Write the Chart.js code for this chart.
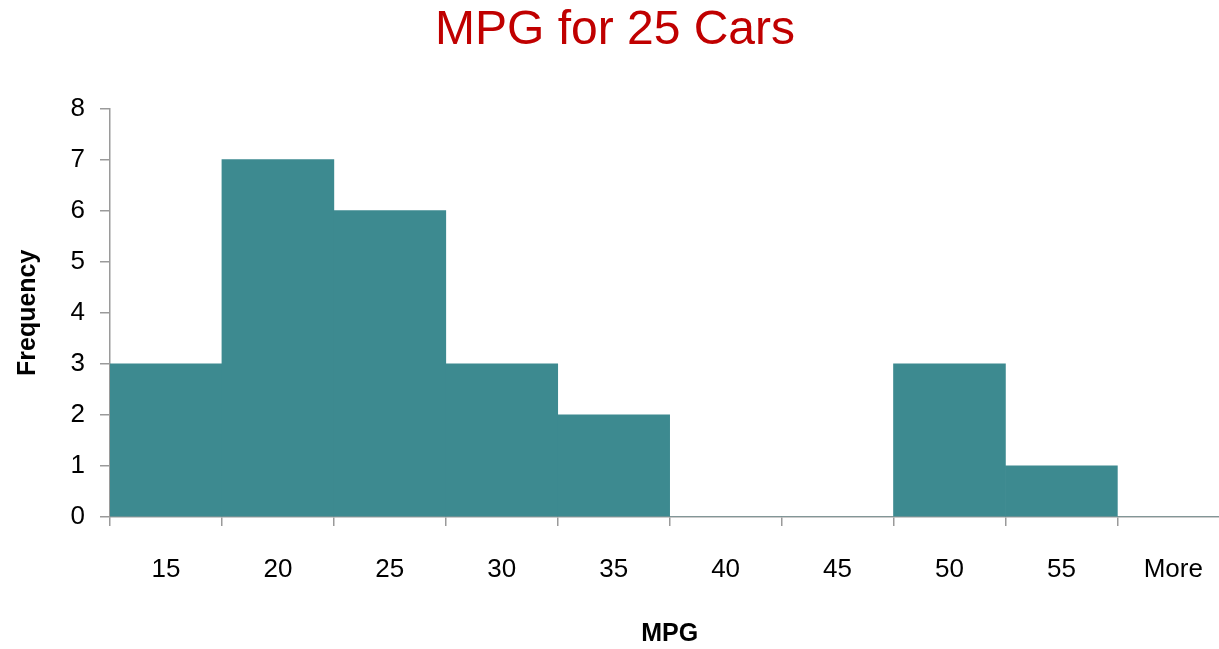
<!DOCTYPE html>
<html>
<head>
<meta charset="utf-8">
<script src="https://cdn.jsdelivr.net/npm/chart.js@4.4.1/dist/chart.umd.min.js"></script>
<style>
  html, body { margin: 0; padding: 0; background: #ffffff; overflow: hidden; }
  #wrap { width: 1219px; height: 649px; overflow: hidden; }
</style>
</head>
<body>
<div id="wrap"><canvas id="hist" width="1231" height="649"></canvas></div>
<script>
// Histogram bins (upper bound of each MPG class) and counts
const binLabels = ['15', '20', '25', '30', '35', '40', '45', '50', '55', 'More'];
const frequencies = [3, 7, 6, 3, 2, 0, 0, 3, 1, 0];
const yTicks = [0, 1, 2, 3, 4, 5, 6, 7, 8];

const AXIS_GRAY = '#9a9a9a';
const FONT = "'Liberation Sans', Arial, sans-serif";

new Chart(document.getElementById('hist'), {
  type: 'bar',
  data: {
    labels: binLabels,
    datasets: [{
      label: 'Frequency',
      data: frequencies,
      backgroundColor: '#3d8a90',
      borderWidth: 0,
      barPercentage: 1.0,
      categoryPercentage: 1.0
    }]
  },
  options: {
    responsive: false,
    animation: false,
    layout: { padding: { left: 0, right: 1, top: 0, bottom: 0 } },
    plugins: {
      legend: { display: false },
      tooltip: { enabled: false },
      title: {
        display: true,
        text: 'MPG for 25 Cars',
        color: '#c00000',
        font: { family: FONT, size: 48, weight: 'normal' },
        padding: { top: 2, bottom: 49 }
      }
    },
    scales: {
      x: {
        offset: true,
        grid: {
          display: true,
          offset: true,
          drawOnChartArea: false,
          drawTicks: true,
          tickLength: 9,
          color: AXIS_GRAY,
          lineWidth: 1.5
        },
        border: { display: true, color: AXIS_GRAY, width: 1.5 },
        ticks: {
          color: '#000000',
          font: { family: FONT, size: 26 },
          padding: 28,
          maxRotation: 0,
          autoSkip: false
        },
        title: {
          display: true,
          text: 'MPG',
          color: '#000000',
          font: { family: FONT, size: 25, weight: 'bold' },
          padding: { top: 0, bottom: 0 }
        },
        afterFit(scale) { scale.height = 132; }
      },
      y: {
        min: 0,
        max: 8,
        afterBuildTicks(scale) { scale.ticks = yTicks.map(v => ({ value: v })); },
        grid: {
          display: true,
          drawOnChartArea: false,
          drawTicks: true,
          tickLength: 10,
          color: AXIS_GRAY,
          lineWidth: 1.5
        },
        border: { display: true, color: AXIS_GRAY, width: 1.5 },
        ticks: {
          color: '#000000',
          font: { family: FONT, size: 26 },
          padding: 15
        },
        title: {
          display: true,
          text: 'Frequency',
          color: '#000000',
          font: { family: FONT, size: 25, weight: 'bold' },
          padding: { top: 13, bottom: 0 }
        },
        afterFit(scale) { scale.width = 110; }
      }
    }
  }
});
</script>
</body>
</html>
